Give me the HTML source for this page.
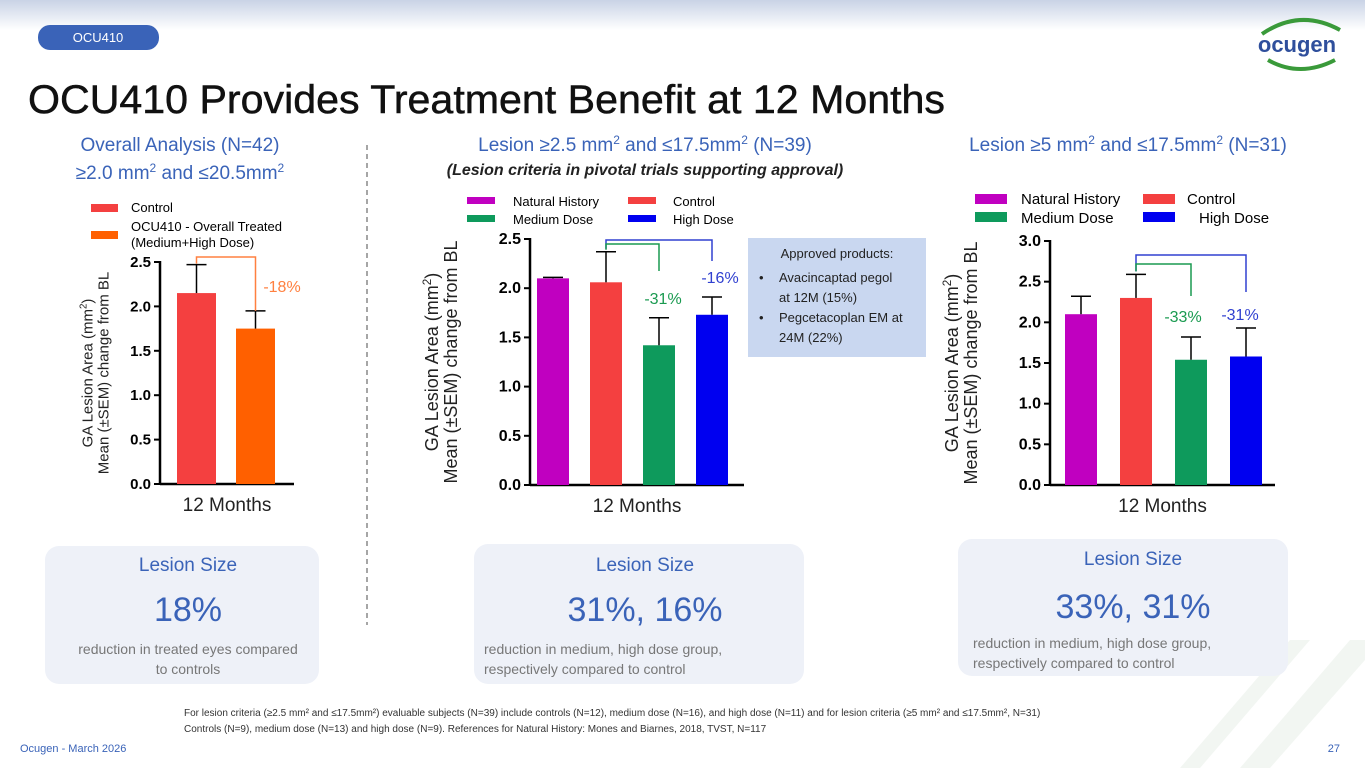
<!DOCTYPE html>
<html><head><meta charset="utf-8"><style>
body{margin:0;width:1365px;height:768px;overflow:hidden;background:#fff;font-family:"Liberation Sans",sans-serif;}
svg text{font-family:"Liberation Sans",sans-serif;}
</style></head><body>
<svg id="s" width="1365" height="768" viewBox="0 0 1365 768" xmlns="http://www.w3.org/2000/svg">
<defs>
<linearGradient id="tg" x1="0" y1="0" x2="0" y2="1"><stop offset="0" stop-color="#c9d3e6"/><stop offset="1" stop-color="#ffffff"/></linearGradient>
</defs>
<rect x="0" y="0" width="1365" height="30" fill="url(#tg)"/>
<polygon points="1180,768 1290,640 1310,640 1200,768" fill="#f2f6f2"/>
<polygon points="1240,768 1350,640 1365,640 1365,660 1270,768" fill="#f2f6f2"/>
<rect x="38" y="25" width="121" height="25" rx="12" fill="#3a63b8"/>
<text x="98" y="42" font-size="13" fill="#fff" text-anchor="middle">OCU410</text>
<g>
<path d="M1262,34 Q1300,8 1340,30" stroke="#3a9a3a" stroke-width="4" fill="none"/>
<path d="M1268,60 Q1300,78 1335,60" stroke="#3a9a3a" stroke-width="4" fill="none"/>
<text x="1297" y="52" font-size="22" font-weight="bold" fill="#2f4f9c" text-anchor="middle">ocugen</text>
</g>
<text x="28" y="113" font-size="40" fill="#111" textLength="917" lengthAdjust="spacingAndGlyphs" stroke="#111" stroke-width="0.5">OCU410 Provides Treatment Benefit at 12 Months</text>

<text x="180" y="151" font-size="19" fill="#3a63b8" text-anchor="middle">Overall Analysis (N=42)</text>
<text x="180" y="179" font-size="19" fill="#3a63b8" text-anchor="middle">≥2.0 mm<tspan font-size="12" dy="-7">2</tspan><tspan dy="7"> and ≤20.5mm</tspan><tspan font-size="12" dy="-7">2</tspan></text>
<text x="645" y="151" font-size="19" fill="#3a63b8" text-anchor="middle">Lesion ≥2.5 mm<tspan font-size="12" dy="-7">2</tspan><tspan dy="7"> and ≤17.5mm</tspan><tspan font-size="12" dy="-7">2</tspan><tspan dy="7"> (N=39)</tspan></text>
<text x="645" y="175" font-size="16" font-style="italic" font-weight="bold" fill="#222" text-anchor="middle">(Lesion criteria in pivotal trials supporting approval)</text>
<text x="1128" y="151" font-size="19" fill="#3a63b8" text-anchor="middle">Lesion ≥5 mm<tspan font-size="12" dy="-7">2</tspan><tspan dy="7">  and ≤17.5mm</tspan><tspan font-size="12" dy="-7">2</tspan><tspan dy="7"> (N=31)</tspan></text>
<line x1="367" y1="145" x2="367" y2="625" stroke="#888" stroke-width="1.5" stroke-dasharray="5,4"/>

<rect x="91" y="204" width="27" height="8" fill="#f44040"/><text x="131" y="212" font-size="13">Control</text>
<rect x="91" y="231" width="27" height="8" fill="#ff6000"/><text x="131" y="231" font-size="13">OCU410 - Overall Treated</text><text x="131" y="247" font-size="13">(Medium+High Dose)</text>
<rect x="467" y="197" width="28" height="7" fill="#c000c0"/><text x="513" y="206" font-size="13">Natural History</text>
<rect x="628" y="197" width="28" height="7" fill="#f44040"/><text x="673" y="206" font-size="13">Control</text>
<rect x="467" y="215" width="28" height="7" fill="#0e9a5c"/><text x="513" y="224" font-size="13">Medium Dose</text>
<rect x="628" y="215" width="28" height="7" fill="#0000f0"/><text x="673" y="224" font-size="13">High Dose</text>
<rect x="975" y="194" width="32" height="10" fill="#c000c0"/><text x="1021" y="204" font-size="15">Natural History</text>
<rect x="1143" y="194" width="32" height="10" fill="#f44040"/><text x="1187" y="204" font-size="15">Control</text>
<rect x="975" y="212" width="32" height="10" fill="#0e9a5c"/><text x="1021" y="223" font-size="15">Medium Dose</text>
<rect x="1143" y="212" width="32" height="10" fill="#0000f0"/><text x="1199" y="223" font-size="15">High Dose</text>

<rect x="748" y="238" width="178" height="119" fill="#c9d7f0"/>
<text x="837" y="258" font-size="13" text-anchor="middle" fill="#222">Approved products:</text>
<text x="759" y="282" font-size="13" fill="#222">•</text><text x="779" y="282" font-size="13" fill="#222">Avacincaptad pegol</text><text x="779" y="302" font-size="13" fill="#222">at 12M (15%)</text>
<text x="759" y="322" font-size="13" fill="#222">•</text><text x="779" y="322" font-size="13" fill="#222">Pegcetacoplan EM at</text><text x="779" y="342" font-size="13" fill="#222">24M (22%)</text>

<g id="charts"></g>

<rect x="45" y="546" width="274" height="138" rx="14" fill="#eef1f8"/>
<text x="188" y="571" font-size="19" fill="#3a63b8" text-anchor="middle">Lesion Size</text>
<text x="188" y="621" font-size="34" fill="#3a63b8" text-anchor="middle">18%</text>
<text x="188" y="654" font-size="14" fill="#777" text-anchor="middle">reduction in treated eyes compared</text>
<text x="188" y="674" font-size="14" fill="#777" text-anchor="middle">to controls</text>
<rect x="474" y="544" width="330" height="140" rx="14" fill="#eef1f8"/>
<text x="645" y="571" font-size="19" fill="#3a63b8" text-anchor="middle">Lesion Size</text>
<text x="645" y="621" font-size="34" fill="#3a63b8" text-anchor="middle">31%, 16%</text>
<text x="484" y="654" font-size="14" fill="#777">reduction in medium, high dose group,</text>
<text x="484" y="674" font-size="14" fill="#777">respectively compared to control</text>
<rect x="958" y="539" width="330" height="137" rx="14" fill="#eef1f8"/>
<text x="1133" y="565" font-size="19" fill="#3a63b8" text-anchor="middle">Lesion Size</text>
<text x="1133" y="618" font-size="34" fill="#3a63b8" text-anchor="middle">33%, 31%</text>
<text x="973" y="648" font-size="14" fill="#777">reduction in medium, high dose group,</text>
<text x="973" y="668" font-size="14" fill="#777">respectively compared to control</text>

<text x="184" y="716" font-size="10" fill="#333">For lesion criteria  (≥2.5 mm² and ≤17.5mm²) evaluable subjects (N=39) include controls (N=12), medium dose (N=16),  and high dose (N=11) and for lesion criteria  (≥5 mm² and ≤17.5mm², N=31)</text>
<text x="184" y="732" font-size="10" fill="#333">Controls (N=9), medium dose (N=13) and high dose (N=9). References for Natural History: Mones and Biarnes, 2018, TVST, N=117</text>
<text x="20" y="752" font-size="11" fill="#3a63b8">Ocugen - March 2026</text>
<text x="1340" y="752" font-size="11" fill="#3a63b8" text-anchor="end">27</text>
</svg>
<script>
const c1Cats=["Control","OCU410 Overall Treated"];
const c1Vals=[2.15,1.75];
const c1Err=[2.47,1.95];
const c1Ticks=["0.0","0.5","1.0","1.5","2.0","2.5"];
const c2Cats=["Natural History","Control","Medium Dose","High Dose"];
const c2Vals=[2.1,2.06,1.42,1.73];
const c2Err=[2.11,2.37,1.7,1.91];
const c2Ticks=["0.0","0.5","1.0","1.5","2.0","2.5"];
const c3Cats=["Natural History","Control","Medium Dose","High Dose"];
const c3Vals=[2.1,2.3,1.54,1.58];
const c3Err=[2.32,2.59,1.82,1.93];
const c3Ticks=["0.0","0.5","1.0","1.5","2.0","2.5","3.0"];
const NS="http://www.w3.org/2000/svg";
const root=document.getElementById('charts');
function el(t,a,txt){const e=document.createElementNS(NS,t);for(const k in a)e.setAttribute(k,a[k]);if(txt!==undefined)e.textContent=txt;root.appendChild(e);return e;}
function chart(cfg,cats,vals,errs,ticks){
  const ymax=parseFloat(ticks[ticks.length-1]);
  const y=v=>cfg.y0-(v/ymax)*(cfg.y0-cfg.yTop);
  const g=el('g',{});
  
  
  ticks.forEach(t=>{const v=parseFloat(t);
    el('line',{x1:cfg.ax-6,x2:cfg.ax,y1:y(v),y2:y(v),stroke:'#000','stroke-width':2});
    const tx=el('text',{x:cfg.ax-9,y:y(v)+5,'font-size':cfg.tf,'font-weight':'bold','text-anchor':'end'},t);
    
    });
  const ya=el('line',{x1:cfg.ax,x2:cfg.ax,y1:cfg.yTop-1,y2:cfg.y0,stroke:'#000','stroke-width':2.5});
  
  const xa=el('line',{x1:cfg.ax,x2:cfg.xEnd,y1:cfg.y0,y2:cfg.y0,stroke:'#000','stroke-width':2.5});
  
  cats.forEach((c,i)=>{const x=cfg.b0+i*cfg.step;const cx=x+cfg.bw/2;
    const r=el('rect',{x:x,y:y(vals[i]),width:cfg.bw,height:cfg.y0-y(vals[i]),fill:cfg.colors[i]});
    
    
    el('line',{x1:cx,x2:cx,y1:y(errs[i]),y2:y(vals[i]),stroke:'#000','stroke-width':1.5});
    el('line',{x1:cx-10,x2:cx+10,y1:y(errs[i]),y2:y(errs[i]),stroke:'#000','stroke-width':1.5});
  });
  const xl=el('text',{x:(cfg.ax+cfg.xEnd)/2,y:cfg.y0+27,'font-size':19,'text-anchor':'middle',fill:'#222'},'12 Months');
  
  const yt=el('text',{transform:`translate(${cfg.ylx},${(cfg.y0+cfg.yTop)/2}) rotate(-90)`,'font-size':cfg.yf,'text-anchor':'middle',fill:'#222'});
  
  const t1=document.createElementNS(NS,'tspan');t1.setAttribute('x',0);t1.setAttribute('dy',-cfg.yf*0.1);t1.textContent='GA Lesion Area (mm';yt.appendChild(t1);
  const s=document.createElementNS(NS,'tspan');s.setAttribute('font-size',cfg.yf*0.65);s.setAttribute('dy',-cfg.yf*0.4);s.textContent='2';yt.appendChild(s);
  const t2=document.createElementNS(NS,'tspan');t2.setAttribute('dy',cfg.yf*0.4);t2.textContent=')';yt.appendChild(t2);
  const t3=document.createElementNS(NS,'tspan');t3.setAttribute('x',0);t3.setAttribute('dy',cfg.yf*1.05);t3.textContent='Mean (±SEM) change from  BL';yt.appendChild(t3);
  return {y,cx:i=>cfg.b0+i*cfg.step+cfg.bw/2};
}
function bracket(a,from,to,topY,col,lab,lx,ly,bot){
  const p=el('polyline',{points:`${a.cx(from)},${bot[0]} ${a.cx(from)},${topY} ${a.cx(to)},${topY} ${a.cx(to)},${bot[1]}`,fill:'none',stroke:col,'stroke-width':1.5});
  
  const t=el('text',{x:lx,y:ly,'font-size':16,fill:col,'text-anchor':'middle'},lab);
  
}
const a1=chart({name:'chart-overall',ax:160,xEnd:294,y0:484,yTop:262,b0:177,bw:39,step:59,tf:15,yf:15,ylx:94,colors:['#f44040','#ff6000']},c1Cats,c1Vals,c1Err,c1Ticks);
bracket(a1,0,1,257,'#ff8040','-18%',282,292,[a1.y(c1Err[0])-1,a1.y(c1Err[1])]);
const a2=chart({name:'chart-lesion-2-5',ax:530,xEnd:744,y0:485,yTop:239,b0:537,bw:32,step:53,tf:16,yf:18,ylx:440,colors:['#c000c0','#f44040','#0e9a5c','#0000f0']},c2Cats,c2Vals,c2Err,c2Ticks);
bracket(a2,1,3,240,'#3040d0','-16%',720,283,[a2.y(c2Err[1])-3,261]);
bracket(a2,1,2,244,'#1a9a50','-31%',663,304,[a2.y(c2Err[1])-2,271]);
const a3=chart({name:'chart-lesion-5',ax:1050,xEnd:1275,y0:485,yTop:241,b0:1065,bw:32,step:55,tf:16,yf:18,ylx:960,colors:['#c000c0','#f44040','#0e9a5c','#0000f0']},c3Cats,c3Vals,c3Err,c3Ticks);
bracket(a3,1,3,255,'#3040d0','-31%',1240,320,[a3.y(c3Err[1])-3,292]);
bracket(a3,1,2,264,'#1a9a50','-33%',1183,322,[a3.y(c3Err[1])-3,296]);
</script>
</body></html>
